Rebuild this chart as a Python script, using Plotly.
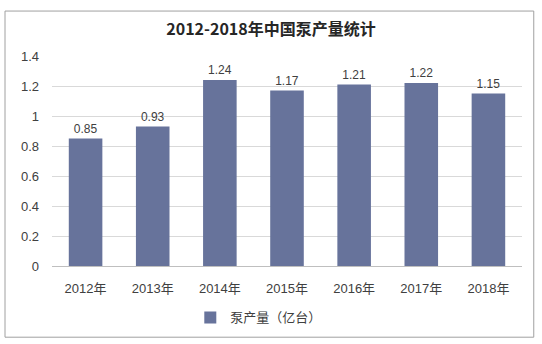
import plotly.graph_objects as go

years = ["2012年", "2013年", "2014年", "2015年", "2016年", "2017年", "2018年"]
values = [0.85, 0.93, 1.24, 1.17, 1.21, 1.22, 1.15]
series_name = "泵产量（亿台）"
title = "2012-2018年中国泵产量统计"
y_ticks = [0, 0.2, 0.4, 0.6, 0.8, 1, 1.2, 1.4]

font_family = "Liberation Sans, Noto Sans CJK SC, sans-serif"
title_family = "Noto Sans CJK SC, sans-serif"

fig = go.Figure()
fig.add_trace(go.Bar(
    x=years, y=values, name=series_name,
    marker=dict(color="#67739B", line=dict(width=0)),
    text=[f"{v:.2f}" for v in values], textposition="outside",
    textfont=dict(size=12, color="#404040", family=font_family),
    cliponaxis=False, width=0.5,
))

fig.update_layout(
    width=542, height=344,
    margin=dict(l=52, r=20, t=56, b=78),
    paper_bgcolor="white", plot_bgcolor="white",
    title=dict(text=f"<b>{title}</b>", x=0.5, xanchor="center", y=0.915, yanchor="middle",
               font=dict(size=16, color="#262626", family=title_family)),
    showlegend=True,
    legend=dict(orientation="h", x=0.44, xanchor="center", y=-0.245, yanchor="middle",
                font=dict(size=13, color="#404040", family=font_family),
                itemwidth=30),
    font=dict(family=font_family, color="#404040"),
    shapes=[dict(type="rect", xref="paper", yref="paper", x0=-0.1, x1=1.025, y0=-0.339, y1=1.214,
                 line=dict(color="#A0A0A0", width=1))],
)
fig.update_xaxes(showline=True, linecolor="#BFBFBF", linewidth=1, ticks="",
                 ticklabelstandoff=10,
                 tickfont=dict(size=13, color="#404040"))
fig.update_yaxes(range=[0, 1.4], tickvals=y_ticks, ticktext=[f"{t:g}" for t in y_ticks],
                 showgrid=True, gridcolor="#D9D9D9", gridwidth=1, zeroline=False,
                 showline=False, ticks="", ticklabelstandoff=12,
                 tickfont=dict(size=13, color="#404040"))

fig.write_html("out.html")
